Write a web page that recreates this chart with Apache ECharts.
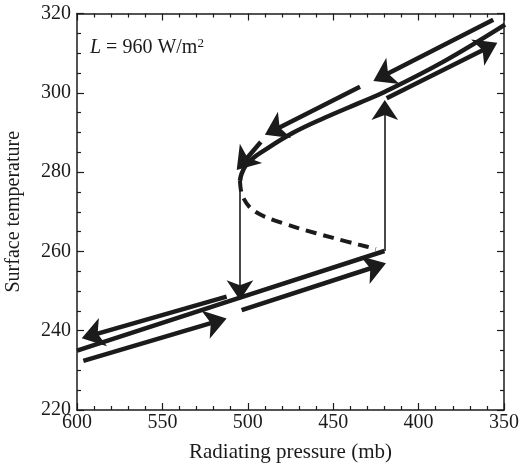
<!DOCTYPE html>
<html>
<head>
<meta charset="utf-8">
<script src="https://cdn.jsdelivr.net/npm/echarts@6/dist/echarts.min.js"></script>
<style>
  html, body { margin: 0; padding: 0; background: #fff; }
  #main { width: 520px; height: 471px; }
</style>
</head>
<body>
<div id="main"></div>
<script>
// axis ticks
const xTicks = [600, 550, 500, 450, 400, 350];
const yTicks = [220, 240, 260, 280, 300, 320];

// equilibrium curve: [pressure, temperature]
const lowerBranch = [[600, 235], [510, 247.6], [420, 260.1]];
const upperBranch = [[504.6, 277.8], [503.6, 279.6], [501, 281.8], [497, 283.5], [492.9, 284.8],
  [473.5, 289.9], [455, 293.7], [435, 297.4], [420, 300.2], [385.7, 307.8], [349.4, 317.2]];
const unstableBranch = [[504.6, 277.8], [504, 275.4], [502.5, 273.4], [499, 271.2], [494, 269.6],
  [488, 268.4], [470, 265.8], [450, 263.4], [435, 261.7], [425, 260.6]];

// thick direction arrows: [p0, T0, p1, T1] (tip at p1,T1)
const thickArrows = [
  [512.4, 248.6, 597.2, 238.1],
  [596.3, 232.4, 512.4, 243.1],
  [503.6, 245.2, 419.1, 257.0],
  [356.3, 318.4, 426.5, 303.0],
  [418.7, 298.6, 353.9, 312.6],
  [434.3, 301.5, 490.0, 289.4],
  [492.4, 287.6, 506.5, 280.5]
];

// thin jump arrows
const jumpArrows = [
  [504.6, 277.8, 504.6, 247.7],
  [419.8, 260.1, 419.8, 298.2]
];

const serif = 'Liberation Serif';
const ink = '#1b1b1b';

const chart = echarts.init(document.getElementById('main'));

function arrowData(list) {
  return list.map(a => ({ coords: [[a[0], a[1]], [a[2], a[3]]] }));
}

// shaft stops a few pixels short of the tip so it hides inside the head
function trimmedArrows(list, px) {
  return list.map(a => {
    const p0 = chart.convertToPixel({ gridIndex: 0 }, [a[0], a[1]]);
    const p1 = chart.convertToPixel({ gridIndex: 0 }, [a[2], a[3]]);
    const dx = p1[0] - p0[0], dy = p1[1] - p0[1];
    const len = Math.hypot(dx, dy);
    const end = chart.convertFromPixel({ gridIndex: 0 }, [p1[0] - dx / len * px, p1[1] - dy / len * px]);
    return { coords: [[a[0], a[1]], end] };
  });
}

const axisCommon = {
  type: 'value',
  axisLine: { show: true, lineStyle: { color: ink, width: 1.5 } },
  axisTick: { show: true, inside: true, length: 7, lineStyle: { color: ink, width: 1.2 } },
  minorTick: { show: true, length: 4, lineStyle: { color: ink, width: 1.2 } },
  splitLine: { show: false }
};

const option = {
  animation: false,
  grid: { left: 77, right: 16, top: 13.5, bottom: 61, containLabel: false, outerBoundsMode: 'none' },
  xAxis: [
    Object.assign({}, axisCommon, {
      min: 350, max: 600, interval: 50, inverse: true, position: 'bottom',
      minorTick: Object.assign({}, axisCommon.minorTick, { splitNumber: 5 }),
      axisLabel: { color: ink, fontFamily: serif, fontSize: 20, margin: 3 },
      name: 'Radiating pressure (mb)', nameLocation: 'middle', nameGap: 32,
      nameTextStyle: { color: ink, fontFamily: serif, fontSize: 21 }
    }),
    Object.assign({}, axisCommon, {
      min: 350, max: 600, interval: 50, inverse: true, position: 'top',
      minorTick: Object.assign({}, axisCommon.minorTick, { splitNumber: 5 }),
      axisLabel: { show: false }
    })
  ],
  yAxis: [
    Object.assign({}, axisCommon, {
      min: 220, max: 320, interval: 20, position: 'left',
      minorTick: Object.assign({}, axisCommon.minorTick, { splitNumber: 4 }),
      axisLabel: { color: ink, fontFamily: serif, fontSize: 20, margin: 6 },
      name: 'Surface temperature', nameLocation: 'middle', nameGap: 53,
      nameTextStyle: { color: ink, fontFamily: serif, fontSize: 20 }
    }),
    Object.assign({}, axisCommon, {
      min: 220, max: 320, interval: 20, position: 'right',
      minorTick: Object.assign({}, axisCommon.minorTick, { splitNumber: 4 }),
      axisLabel: { show: false }
    })
  ],
  graphic: [{
    type: 'text', left: 90, top: 37,
    style: {
      text: '{i|L} = 960 W/m{s|2}',
      fill: ink, font: '20px ' + serif,
      rich: {
        i: { fontStyle: 'italic', fontFamily: serif, fontSize: 20, fill: ink },
        s: { fontFamily: serif, fontSize: 13, fill: ink, verticalAlign: 'top', padding: [0, 0, 9, 0] }
      }
    }
  }],
  series: [
    {
      type: 'line', data: lowerBranch, symbol: 'none', smooth: false,
      lineStyle: { color: ink, width: 4.5 }
    },
    {
      type: 'line', data: upperBranch, symbol: 'none', smooth: 0.4,
      lineStyle: { color: ink, width: 4.5 }
    },
    {
      type: 'line', data: unstableBranch, symbol: 'none', smooth: 0.3,
      lineStyle: { color: ink, width: 4, type: [11, 7] }
    },
    {
      id: 'thickShaft', type: 'lines', coordinateSystem: 'cartesian2d',
      data: arrowData(thickArrows), symbol: 'none',
      lineStyle: { color: ink, width: 4.5, opacity: 1, cap: 'butt' }
    },
    {
      type: 'lines', coordinateSystem: 'cartesian2d',
      data: arrowData(thickArrows),
      symbol: ['none', 'arrow'], symbolSize: [10, 22],
      lineStyle: { color: ink, width: 0, opacity: 1 },
      itemStyle: { color: ink }
    },
    {
      id: 'thinShaft', type: 'lines', coordinateSystem: 'cartesian2d',
      data: arrowData(jumpArrows), symbol: 'none',
      lineStyle: { color: ink, width: 1.6, opacity: 1 }
    },
    {
      type: 'lines', coordinateSystem: 'cartesian2d',
      data: arrowData(jumpArrows),
      symbol: ['none', 'arrow'], symbolSize: [9, 20],
      lineStyle: { color: ink, width: 0, opacity: 1 },
      itemStyle: { color: ink }
    }
  ]
};

chart.setOption(option);
chart.setOption({
  series: [
    { id: 'thickShaft', data: trimmedArrows(thickArrows, 12) },
    { id: 'thinShaft', data: trimmedArrows(jumpArrows, 8) }
  ]
});
</script>
</body>
</html>
